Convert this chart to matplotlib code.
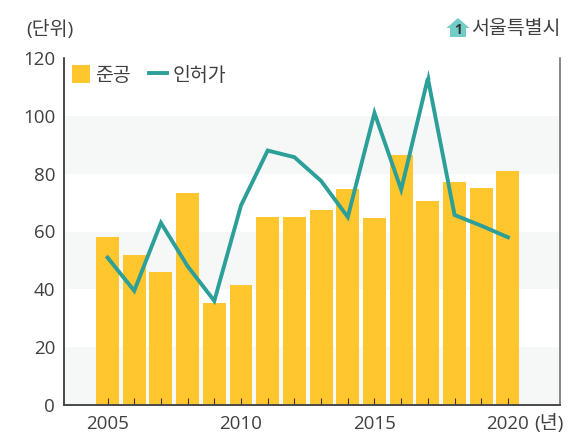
import matplotlib
matplotlib.use('Agg')
import matplotlib.pyplot as plt
from matplotlib.patches import Polygon

plt.rcParams['font.family'] = ['Open Sans', 'Noto Sans CJK KR', 'DejaVu Sans']

years = list(range(2005, 2021))
completed = [58.1, 51.9, 46, 73.3, 35.3, 41.5, 65, 65, 67.5, 74.7, 64.7, 86.4, 70.5, 77, 75, 81]
permits = [51, 39.5, 63, 48, 36, 69, 88, 85.7, 77.5, 65, 101, 74.5, 113, 65.7, 62, 58]
y_ticks = [0, 20, 40, 60, 80, 100, 120]
x_labels = [2005, 2010, 2015, 2020]
bands = [(0, 20), (40, 60), (80, 100)]

text_color = '#404040'
bar_color = '#FFC62E'
line_color = '#2C9F99'

W, H = 568, 442
fig = plt.figure(figsize=(W / 100, H / 100), dpi=100)
ax = fig.add_axes([63.5 / W, 1 - 405 / H, (560 - 63.5) / W, (405 - 58) / H])

for lo, hi in bands:
    ax.axhspan(lo, hi, color='#F5F8F7', lw=0, zorder=0)

ax.bar(years, completed, width=0.86, color=bar_color, zorder=2, label='준공')
ax.plot(years, permits, color=line_color, lw=2.8, zorder=4, label='인허가', solid_joinstyle='miter')
# agg cuts the sharpest miter off, so put the tip back on the highest point
ax.plot([years[permits.index(max(permits))]], [max(permits)], ls='none', color=line_color, zorder=4,
        marker=[(-2, -1), (0, 8.8), (2, -1)], markersize=12.7, markeredgewidth=0)
# year ticks sit inside the axes, on top of the bars
ax.vlines(years, 0, 2.4, color='#3a3a3a', lw=0.8, zorder=3)

ax.set_xlim(2003.35, 2021.95)
ax.set_ylim(0, 120)
ax.set_yticks(y_ticks)
ax.set_xticks(x_labels)
ax.tick_params(axis='x', length=0, labelsize=13.5, labelcolor=text_color, pad=7)
ax.tick_params(axis='y', length=0, labelsize=13.5, labelcolor=text_color, pad=6)

ax.spines['top'].set_visible(False)
ax.spines['right'].set_color('#666666')
ax.spines['right'].set_linewidth(1.1)
ax.spines['left'].set_color('#2a2a2a')
ax.spines['left'].set_linewidth(1.2)
ax.spines['bottom'].set_color('#4a4a4a')
ax.spines['bottom'].set_linewidth(1.4)

handles, labels = ax.get_legend_handles_labels()
ax.legend(handles[:2][::-1], labels[:2][::-1], loc='upper left', bbox_to_anchor=(0.003, 0.998), ncol=2,
          frameon=False, fontsize=14, labelcolor=text_color, handlelength=0.92,
          handleheight=1.0, handletextpad=0.28, columnspacing=0.93, borderaxespad=0.0,
          borderpad=0.35)

fig.text(26 / W, 1 - 29 / H, '(단위)', fontsize=14, color=text_color, va='center', ha='left')
fig.text(471.5 / W, 1 - 29 / H, '서울특별시', fontsize=14, color=text_color, va='center', ha='left')
fig.text(534 / W, 1 - 423 / H, '(년)', fontsize=14, color=text_color, va='center', ha='left')

# house icon next to the region name
house = [(446.5, 28), (458, 18), (469.5, 28), (466, 28), (466, 37), (450, 37), (450, 28)]
fig.add_artist(Polygon([(x / W, 1 - y / H) for x, y in house], closed=True,
                       transform=fig.transFigure, color='#74CCC6', lw=0))
fig.text(458 / W, 1 - 29.5 / H, '1', fontsize=10, fontweight='bold', color='#2a3a3a', va='center', ha='center')

fig.savefig('out.png', dpi=100)
